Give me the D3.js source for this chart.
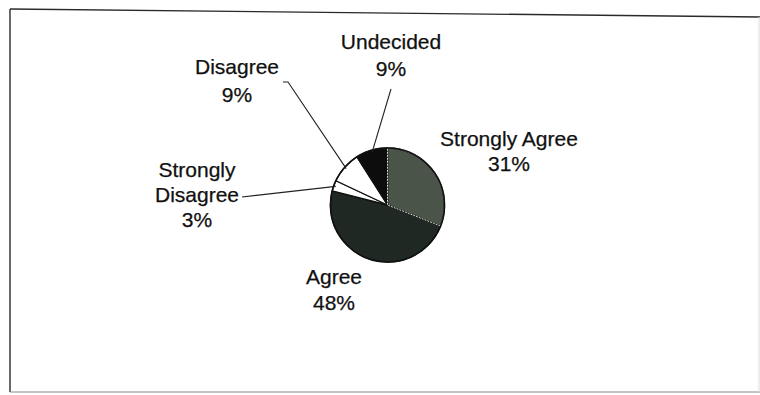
<!DOCTYPE html>
<html>
<head>
<meta charset="utf-8">
<script src="https://cdn.jsdelivr.net/npm/d3@7"></script>
<style>
  html, body { margin: 0; padding: 0; background: #fff; }
  svg { display: block; }
  text { font-family: "Liberation Sans", Arial, Helvetica, sans-serif; font-size: 21px; fill: #111; stroke: #111; stroke-width: 0.25px; }
</style>
</head>
<body>
<svg id="chart" width="760" height="395"></svg>
<script>
// Survey responses, in drawing order (clockwise from 12 o'clock)
const categories = ["Strongly Agree", "Agree", "Strongly Disagree", "Disagree", "Undecided"];
const values = [31, 48, 3, 9, 9];
const sliceColors = ["#4b5449", "#1f2822", "#ffffff", "#ffffff", "#0c0d0c"];

// Label lines and leader anchor points
const labelLines = [
  ["Strongly Agree", "31%"],
  ["Agree", "48%"],
  ["Strongly", "Disagree", "3%"],
  ["Disagree", "9%"],
  ["Undecided", "9%"]
];
const labelPos = [
  { x: 509, y: 146, lh: 25, leader: null },
  { x: 334, y: 284, lh: 26, leader: null },
  { x: 197, y: 177, lh: 25, leader: [[242, 197]] },
  { x: 237, y: 74, lh: 28, leader: [[283, 82], [288, 82]] },
  { x: 391, y: 49, lh: 27, leader: [[391, 89]] }
];

const svg = d3.select("#chart");
const cx = 387.5, cy = 205, r = 57;

// Frame
svg.append("line").attr("x1", 10).attr("y1", 9).attr("x2", 760).attr("y2", 17)
  .attr("stroke", "#2a2a2a").attr("stroke-width", 1.4);
svg.append("line").attr("x1", 10).attr("y1", 9).attr("x2", 10).attr("y2", 392)
  .attr("stroke", "#2a2a2a").attr("stroke-width", 1.4);
svg.append("line").attr("x1", 10).attr("y1", 392).attr("x2", 760).attr("y2", 392)
  .attr("stroke", "#8a8a8a").attr("stroke-width", 1.2);
svg.append("line").attr("x1", 759).attr("y1", 17).attr("x2", 759).attr("y2", 392)
  .attr("stroke", "#dcdcdc").attr("stroke-width", 1);

const pie = d3.pie().sort(null).value(d => d).startAngle(0).endAngle(2 * Math.PI);
const arcs = pie(values);
const arc = d3.arc().innerRadius(0).outerRadius(r);

const g = svg.append("g").attr("transform", `translate(${cx},${cy})`);

g.selectAll("path.slice")
  .data(arcs)
  .join("path")
  .attr("class", "slice")
  .attr("d", arc)
  .attr("fill", (d, i) => sliceColors[i])
  .attr("stroke", "#111")
  .attr("stroke-width", 1.3)
  .attr("stroke-linejoin", "round");

// lighter radial edges on the first slice
g.append("path")
  .attr("d", arc(arcs[0]))
  .attr("fill", "none")
  .attr("stroke", "#d6d6d6")
  .attr("stroke-width", 1)
  .attr("stroke-dasharray", "2,1");

g.append("circle").attr("r", r).attr("fill", "none")
  .attr("stroke", "#111").attr("stroke-width", 1.6);

// Leader lines from labels to slice edges
arcs.forEach((a, i) => {
  const lp = labelPos[i];
  if (!lp.leader) return;
  const mid = (a.startAngle + a.endAngle) / 2;
  const end = [cx + Math.sin(mid) * (r - 2), cy - Math.cos(mid) * (r - 2)];
  const pts = lp.leader.concat([end]);
  svg.append("path")
    .attr("d", d3.line()(pts))
    .attr("fill", "none")
    .attr("stroke", "#222")
    .attr("stroke-width", 1.1);
});

// Labels
labelLines.forEach((lines, i) => {
  const lp = labelPos[i];
  const t = svg.append("text").attr("text-anchor", "middle");
  lines.forEach((s, k) => {
    t.append("tspan").attr("x", lp.x).attr("y", lp.y + k * lp.lh).text(s);
  });
});
</script>
</body>
</html>
